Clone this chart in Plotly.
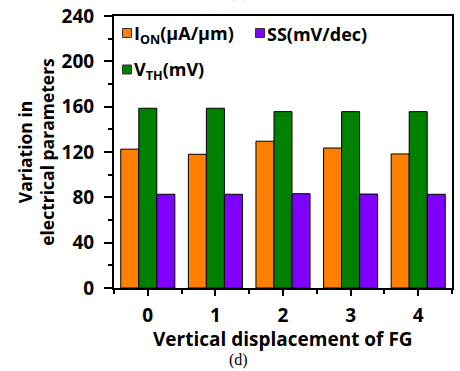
import plotly.graph_objects as go

categories = [0, 1, 2, 3, 4]
ion = [122.5, 118, 129.5, 123.5, 118.3]
vth = [158.6, 158.6, 155.6, 155.6, 155.6]
ss = [82.7, 82.7, 83.2, 82.9, 82.7]
ytick_vals = [0, 40, 80, 120, 160, 200, 240]

series_names = ["I<sub>ON</sub>(μA/μm)", "V<sub>TH</sub>(mV)", "SS(mV/dec)"]
series_colors = ["#FF8000", "#008000", "#8000FF"]

FONT = "Open Sans"

fig = go.Figure()
for vals, name, col in zip([ion, vth, ss], series_names, series_colors):
    fig.add_trace(go.Bar(x=categories, y=vals, name=name,
                         marker=dict(color=col, line=dict(color="black", width=1))))

tick_font = dict(family=FONT, size=19, color="black", weight="bold")

# plot area in pixels: x 114..452, y 16..288
L, R, T, B = 114, 452, 16, 288
def px(x):
    return (x - L) / (R - L)
def py(y):
    return (B - y) / (B - T)

fig.update_layout(
    width=460, height=371,
    margin=dict(l=L, r=460 - R, t=T, b=371 - B),
    plot_bgcolor="white", paper_bgcolor="white",
    barmode="group", bargap=0.2, bargroupgap=0,
    font=dict(family=FONT, color="black"),
    showlegend=False,
    xaxis=dict(range=[-0.5, 4.5], tickvals=categories, ticktext=[str(c) for c in categories],
               showline=True, linewidth=2, linecolor="black", mirror=True,
               ticks="outside", ticklen=6, tickwidth=2, tickcolor="black",
               minor=dict(ticks="outside", ticklen=4, tickwidth=2, tickcolor="black",
                          tick0=0.5, dtick=1),
               showgrid=False, zeroline=False, tickfont=tick_font, ticklabelstandoff=3,
               automargin=False),
    yaxis=dict(range=[0, 240], tickvals=ytick_vals,
               showline=True, linewidth=2, linecolor="black", mirror=True,
               ticks="outside", ticklen=8, tickwidth=2, tickcolor="black",
               minor=dict(ticks="outside", ticklen=4, tickwidth=2, tickcolor="black",
                          tick0=20, dtick=40),
               showgrid=False, zeroline=False, tickfont=tick_font, ticklabelstandoff=6,
               automargin=False,
               title=dict(text="Variation in<br>electrical parameters",
                          font=dict(family=FONT, size=17.5, color="black", weight="bold"),
                          standoff=2)),
)

# x-axis title
fig.add_annotation(text="Vertical displacement of FG", xref="paper", yref="paper",
                   x=px(283), y=py(339), xanchor="center", yanchor="middle", showarrow=False,
                   font=dict(family=FONT, size=19, color="black", weight="bold"))

# legend drawn manually: ION, SS on first row; VTH on second row
legend_items = [(0, 127, 33), (2, 260, 33), (1, 127, 69.5)]
sq = 9
for idx, cx, cy in legend_items:
    fig.add_shape(type="rect", xref="paper", yref="paper",
                  x0=px(cx - sq / 2), x1=px(cx + sq / 2),
                  y0=py(cy + sq / 2), y1=py(cy - sq / 2),
                  fillcolor=series_colors[idx], line=dict(color="#333333", width=1))
    fig.add_annotation(text=series_names[idx], xref="paper", yref="paper",
                       x=px(cx + 5), y=py(cy + 1), xanchor="left", yanchor="middle",
                       showarrow=False,
                       font=dict(family=FONT, size=18, color="black", weight="bold"))

fig.add_annotation(text="(d)", xref="paper", yref="paper", x=px(238), y=py(360),
                   xanchor="center", yanchor="middle", showarrow=False,
                   font=dict(family="Liberation Serif", size=16, color="black"))
fig.add_annotation(text="(c)", xref="paper", yref="paper", x=px(238), y=py(-9),
                   xanchor="center", yanchor="middle", showarrow=False,
                   font=dict(family="Liberation Serif", size=17, color="black"))

fig.write_html("out.html")
